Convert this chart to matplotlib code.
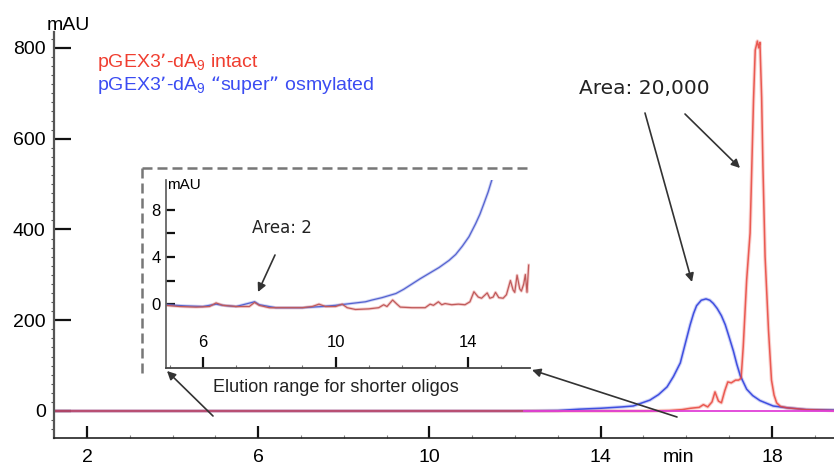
import matplotlib
matplotlib.use("Agg")
import matplotlib.pyplot as plt
from matplotlib.ticker import MultipleLocator
from matplotlib.lines import Line2D

plt.rcParams['font.family'] = ['Liberation Sans', 'DejaVu Sans']
plt.rcParams['mathtext.default'] = 'regular'

# ---------------- data ----------------
# main chromatogram: intact (red)
red_x = [1.23, 3, 5, 7, 9, 11, 13, 15, 15.6, 15.9, 16.1, 16.3, 16.4, 16.5, 16.6, 16.67,
         16.75, 16.82, 16.9, 16.97, 17.05, 17.15, 17.22, 17.28, 17.33, 17.41, 17.49, 17.53,
         17.57, 17.61, 17.66, 17.69, 17.72, 17.76, 17.79, 17.84, 17.92, 17.99, 18.05, 18.11,
         18.2, 18.35, 18.8, 19.45]
red_y = [0, 0, 0, 0, 0, 0, 0, 0, 1, 3, 6, 8, 14, 9, 20, 42,
         22, 18, 45, 64, 62, 68, 68, 72, 142, 289, 392, 538,
         685, 795, 815, 800, 812, 690, 538, 340, 178, 68, 35, 18,
         10, 7, 3, 1]

# main chromatogram: "super" osmylated (blue)
blue_x = [1.23, 5, 9, 12.0, 13.0, 13.5, 14.0, 14.5, 14.76, 15.15, 15.35, 15.55, 15.7,
          15.86, 15.98, 16.09, 16.17, 16.24, 16.35, 16.46, 16.55, 16.63, 16.72, 16.82,
          16.91, 17.0, 17.10, 17.18, 17.26, 17.41, 17.55, 17.72, 17.9, 18.03,
          18.36, 18.8, 19.45]
blue_y = [0, 0, 0, 0, 1, 4, 6, 9, 11, 24, 36, 53, 76,
          106, 150, 190, 215, 232, 244, 247, 244, 237, 226, 210,
          190, 163, 132, 103, 78, 48, 34, 23, 16, 11,
          7, 3, 2]

# inset (zoom of the early elution range)
in_red_x = [4.89, 5.3, 5.8, 6.2, 6.4, 6.6, 7.0, 7.4, 7.56, 7.7, 8.0, 8.5, 9.0, 9.3, 9.5,
            9.7, 10.0, 10.2, 10.35, 10.6, 11.0, 11.3, 11.45, 11.55, 11.72, 11.85, 11.95,
            12.3, 12.7, 12.85, 12.95, 13.1, 13.2, 13.3, 13.5, 13.7, 13.9, 14.05, 14.17,
            14.3, 14.4, 14.57, 14.65, 14.75, 14.82, 14.92, 15.05, 15.15, 15.27, 15.35,
            15.4, 15.47, 15.55, 15.6, 15.67, 15.72, 15.77, 15.82]
in_red_y = [-0.1, -0.2, -0.25, -0.2, 0.1, -0.1, -0.2, -0.2, 0.15, -0.1, -0.3, -0.3, -0.3, -0.2, 0.0,
            -0.2, -0.2, 0.0, -0.3, -0.45, -0.4, -0.3, -0.05, -0.2, 0.35, 0.0, -0.25,
            -0.3, -0.3, 0.0, -0.1, 0.2, -0.05, 0.05, -0.05, 0.0, -0.05, 0.2, 1.05,
            0.6, 0.5, 0.95, 0.5, 0.6, 1.0, 0.55, 0.5, 0.8, 2.0, 1.2,
            1.0, 2.45, 1.3, 1.1, 1.7, 2.5, 1.0, 3.3]
in_blue_x = [4.89, 5.5, 6.0, 6.4, 6.6, 7.0, 7.56, 7.7, 8.2, 9.0, 9.6, 10.0, 10.3, 10.6,
             10.9, 11.1, 11.4, 11.82, 12.05, 12.3, 12.55, 12.82, 13.12, 13.42, 13.62,
             13.82, 14.02, 14.22, 14.35, 14.47, 14.6, 14.72]
in_blue_y = [-0.05, -0.15, -0.2, 0.0, -0.1, -0.2, 0.2, -0.05, -0.3, -0.3, -0.2, -0.1, 0.0, 0.1,
             0.2, 0.35, 0.55, 0.9, 1.25, 1.7, 2.15, 2.6, 3.1, 3.7, 4.2,
             4.9, 5.7, 6.8, 7.6, 8.5, 9.5, 10.6]

main_xticks = [2, 6, 10, 14, 18]
main_yticks = [0, 200, 400, 600, 800]
inset_xticks = [6, 10, 14]
inset_yticks = [0, 2, 4, 6, 8]
inset_yticklabels = ['0', '', '4', '', '8']

label_red = 'pGEX3\u2019-dA$_9$ intact'
label_blue = 'pGEX3\u2019-dA$_9$ \u201csuper\u201d osmylated'

RED = '#e8453c'
BLUE = '#3f4fe0'

W, H = 834, 468
def fx(px):
    return px / W
def fy(py):
    return 1 - py / H

fig = plt.figure(figsize=(8.34, 4.68), dpi=100)

# ---------------- main axes ----------------
ax = fig.add_axes([fx(54), 30 / H, 780 / W, 406 / H])
ax.set_xlim(1.23, 19.45)
ax.set_ylim(-59.5, 835)

ax.plot(blue_x, blue_y, color=BLUE, lw=2.6, alpha=0.25, solid_capstyle='butt')
ax.plot(red_x, red_y, color=RED, lw=2.6, alpha=0.25, solid_capstyle='butt')
ax.plot(blue_x, blue_y, color=BLUE, lw=1.1)
ax.plot(red_x, red_y, color=RED, lw=1.1, alpha=0.85)
ax.plot([12.2, 19.45], [-1, -1], color='#e040d8', lw=1.3)

for s in ['top', 'right']:
    ax.spines[s].set_visible(False)
ax.spines['left'].set_color('#555555')
ax.spines['left'].set_linewidth(1.6)
ax.spines['bottom'].set_color('#222222')
ax.spines['bottom'].set_linewidth(1.2)

ax.set_xticks(main_xticks)
ax.set_yticks(main_yticks)
ax.xaxis.set_minor_locator(MultipleLocator(1))
ax.yaxis.set_minor_locator(MultipleLocator(20))
ax.tick_params(axis='both', which='major', direction='in', width=1.6, color='#111111',
               labelsize=14)
ax.tick_params(axis='x', which='major', length=8.5, pad=8)
ax.tick_params(axis='y', which='major', length=12, pad=6)
ax.tick_params(axis='x', which='minor', direction='in', length=2, width=0.8, color='#888888')
ax.tick_params(axis='y', which='minor', direction='out', length=2.5, width=0.8, color='#555555')

fig.text(fx(47), fy(25), 'mAU', fontsize=14, ha='left', va='center')
fig.text(fx(678), fy(457), 'min', fontsize=14, ha='center', va='center')

fig.text(fx(97), fy(62), label_red, color='#f03e30', fontsize=14, ha='left', va='center')
fig.text(fx(97), fy(85), label_blue, color='#3b4cf2', fontsize=14, ha='left', va='center')

fig.text(fx(644), fy(88), 'Area: 20,000', family='DejaVu Sans', fontsize=14.5,
         ha='center', va='center', color='#222222')

# ---------------- inset ----------------
ax2 = fig.add_axes([fx(166), 100 / H, 364 / W, 188 / H])
ax2.set_facecolor('none')
ax2.set_xlim(4.89, 15.86)
ax2.set_ylim(-5.4, 10.5)
ax2.plot(in_blue_x, in_blue_y, color='#7080e0', lw=2.2, alpha=0.35)
ax2.plot(in_red_x, in_red_y, color='#e07070', lw=2.2, alpha=0.35)
ax2.plot(in_blue_x, in_blue_y, color='#5563d0', lw=0.9)
ax2.plot(in_red_x, in_red_y, color='#c05a5a', lw=0.9)

for s in ['top', 'right']:
    ax2.spines[s].set_visible(False)
ax2.spines['left'].set_color('#666666')
ax2.spines['left'].set_linewidth(1.3)
ax2.spines['bottom'].set_color('#444444')
ax2.spines['bottom'].set_linewidth(1.3)
ax2.set_xticks(inset_xticks)
ax2.set_yticks(inset_yticks)
ax2.set_yticklabels(inset_yticklabels)
ax2.xaxis.set_minor_locator(MultipleLocator(1))
ax2.tick_params(axis='both', which='major', direction='in', width=1.6, color='#111111',
                labelsize=12)
ax2.tick_params(axis='x', which='major', length=8, pad=-24)
ax2.tick_params(axis='y', which='major', length=6.5, pad=4)
ax2.tick_params(axis='x', which='minor', direction='in', length=2, width=0.8, color='#777777')

fig.text(fx(167), fy(185), 'mAU', fontsize=11, ha='left', va='center')
fig.text(fx(282), fy(228), 'Area: 2', family='DejaVu Sans', fontsize=12,
         ha='center', va='center', color='#222222')
fig.text(fx(336), fy(387), 'Elution range for shorter oligos', fontsize=13,
         ha='center', va='center', color='#222222')

# dashed frame around inset
fig.add_artist(Line2D([fx(142), fx(530)], [fy(168), fy(168)], transform=fig.transFigure,
                      color='#777777', lw=1.8, dashes=(4, 2)))
fig.add_artist(Line2D([fx(142), fx(142)], [fy(168), fy(378)], transform=fig.transFigure,
                      color='#777777', lw=1.8, dashes=(4, 2)))

# arrows
arrows = [((645, 113), (692, 282)),
          ((685, 114), (740, 168)),
          ((275, 255), (258, 292)),
          ((213, 416), (167, 371)),
          ((677, 417), (532, 370))]
for (x0, y0), (x1, y1) in arrows:
    fig.add_artist(matplotlib.patches.FancyArrowPatch(
        (fx(x0), fy(y0)), (fx(x1), fy(y1)), transform=fig.transFigure,
        arrowstyle='-|>,head_length=5,head_width=2.5', color='#333333', lw=1.2,
        shrinkA=0, shrinkB=0))

fig.savefig('out.png', dpi=100)
